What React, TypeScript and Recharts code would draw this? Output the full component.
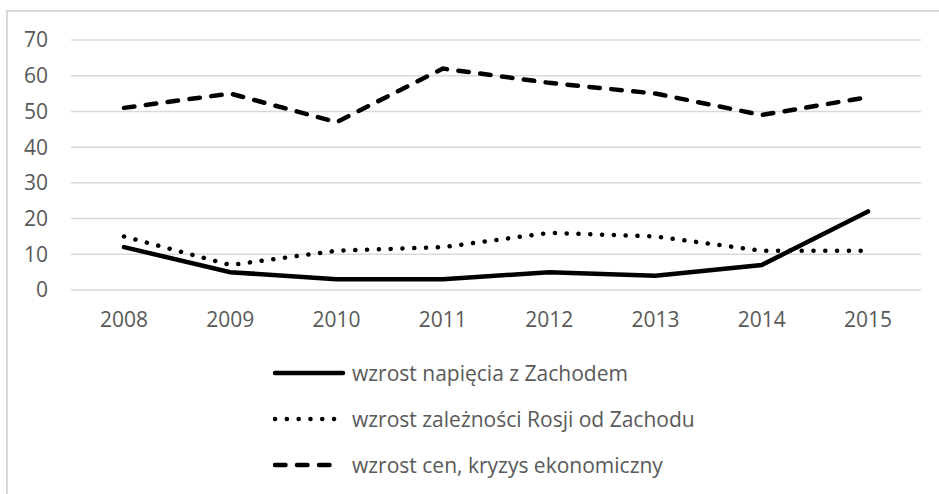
import React from "react";
import { LineChart, Line, XAxis, YAxis, CartesianGrid, Legend } from "recharts";

const years = ["2008", "2009", "2010", "2011", "2012", "2013", "2014", "2015"];
const napiecie = [12, 5, 3, 3, 5, 4, 7, 22];
const zaleznosc = [15, 7, 11, 12, 16, 15, 11, 11];
const ceny = [51, 55, 47, 62, 58, 55, 49, 54];
const yTicks = [0, 10, 20, 30, 40, 50, 60, 70];

const seriesOrder = ["napiecie", "zaleznosc", "ceny"];
const seriesNames = {
  napiecie: "wzrost napięcia z Zachodem",
  zaleznosc: "wzrost zależności Rosji od Zachodu",
  ceny: "wzrost cen, kryzys ekonomiczny",
};

const data = years.map((y, i) => ({
  year: y,
  napiecie: napiecie[i],
  zaleznosc: zaleznosc[i],
  ceny: ceny[i],
}));

const FONT = "'Open Sans', sans-serif";
const TEXT = "#595959";

const dashFor = (key: string) =>
  key === "zaleznosc" ? "0.1 11.7" : key === "ceny" ? "10.5 11.5" : undefined;

const LegendContent = (props: any) => {
  const payload = [...(props.payload || [])].sort(
    (a: any, b: any) => seriesOrder.indexOf(a.dataKey) - seriesOrder.indexOf(b.dataKey)
  );
  return (
    <div style={{ fontFamily: FONT, fontSize: 21, color: TEXT }}>
      {payload.map((p: any) => (
        <div key={p.dataKey} style={{ height: 46, display: "flex", alignItems: "center" }}>
          <svg width={79} height={10} style={{ display: "block", flex: "none" }}>
            <line
              x1={2}
              x2={p.dataKey === "napiecie" ? 70 : 64}
              y1={5}
              y2={5}
              stroke="#000"
              strokeWidth={4.5}
              strokeLinecap="round"
              strokeDasharray={dashFor(p.dataKey)}
            />
          </svg>
          <span style={{ whiteSpace: "nowrap", lineHeight: "24px" }}>{p.value}</span>
        </div>
      ))}
    </div>
  );
};

export default function App() {
  return (
    <div style={{ position: "absolute", left: 0, top: 0, width: 939, height: 494, background: "#fff", overflow: "hidden" }}>
      <div
        style={{
          position: "absolute",
          left: 6,
          top: 10,
          right: 0,
          bottom: 0,
          borderLeft: "2px solid #d9d9d9",
          borderTop: "2px solid #d9d9d9",
        }}
      />
      <div style={{ position: "absolute", left: 0, top: 0 }}>
        <LineChart width={939} height={494} data={data} margin={{ top: 40, right: 18, bottom: 174, left: 0 }}>
          <CartesianGrid vertical={false} stroke="#d9d9d9" strokeWidth={1.5} />
          <XAxis
            dataKey="year"
            axisLine={false}
            tickLine={false}
            tickSize={0}
            tickMargin={22}
            height={30}
            padding={{ left: 53, right: 53 }}
            tick={{ fill: TEXT, fontSize: 21, fontFamily: FONT }}
            interval={0}
          />
          <YAxis
            domain={[0, 70]}
            ticks={yTicks}
            width={71}
            axisLine={false}
            tickLine={false}
            tickSize={0}
            tickMargin={23}
            tick={{ fill: TEXT, fontSize: 21, fontFamily: FONT }}
          />
          <Legend
            layout="vertical"
            align="center"
            verticalAlign="middle"
            wrapperStyle={{ left: 273, top: 350, width: 520 }}
            content={<LegendContent />}
          />
          <Line
            type="linear"
            dataKey="napiecie"
            name={seriesNames.napiecie}
            stroke="#000"
            strokeWidth={4.5}
            strokeLinecap="round"
            dot={false}
            isAnimationActive={false}
          />
          <Line
            type="linear"
            dataKey="zaleznosc"
            name={seriesNames.zaleznosc}
            stroke="#000"
            strokeWidth={4.5}
            strokeLinecap="round"
            strokeDasharray="0.1 11.7"
            dot={false}
            isAnimationActive={false}
          />
          <Line
            type="linear"
            dataKey="ceny"
            name={seriesNames.ceny}
            stroke="#000"
            strokeWidth={4.5}
            strokeLinecap="round"
            strokeDasharray="10.5 11.5"
            dot={false}
            isAnimationActive={false}
          />
        </LineChart>
      </div>
    </div>
  );
}
